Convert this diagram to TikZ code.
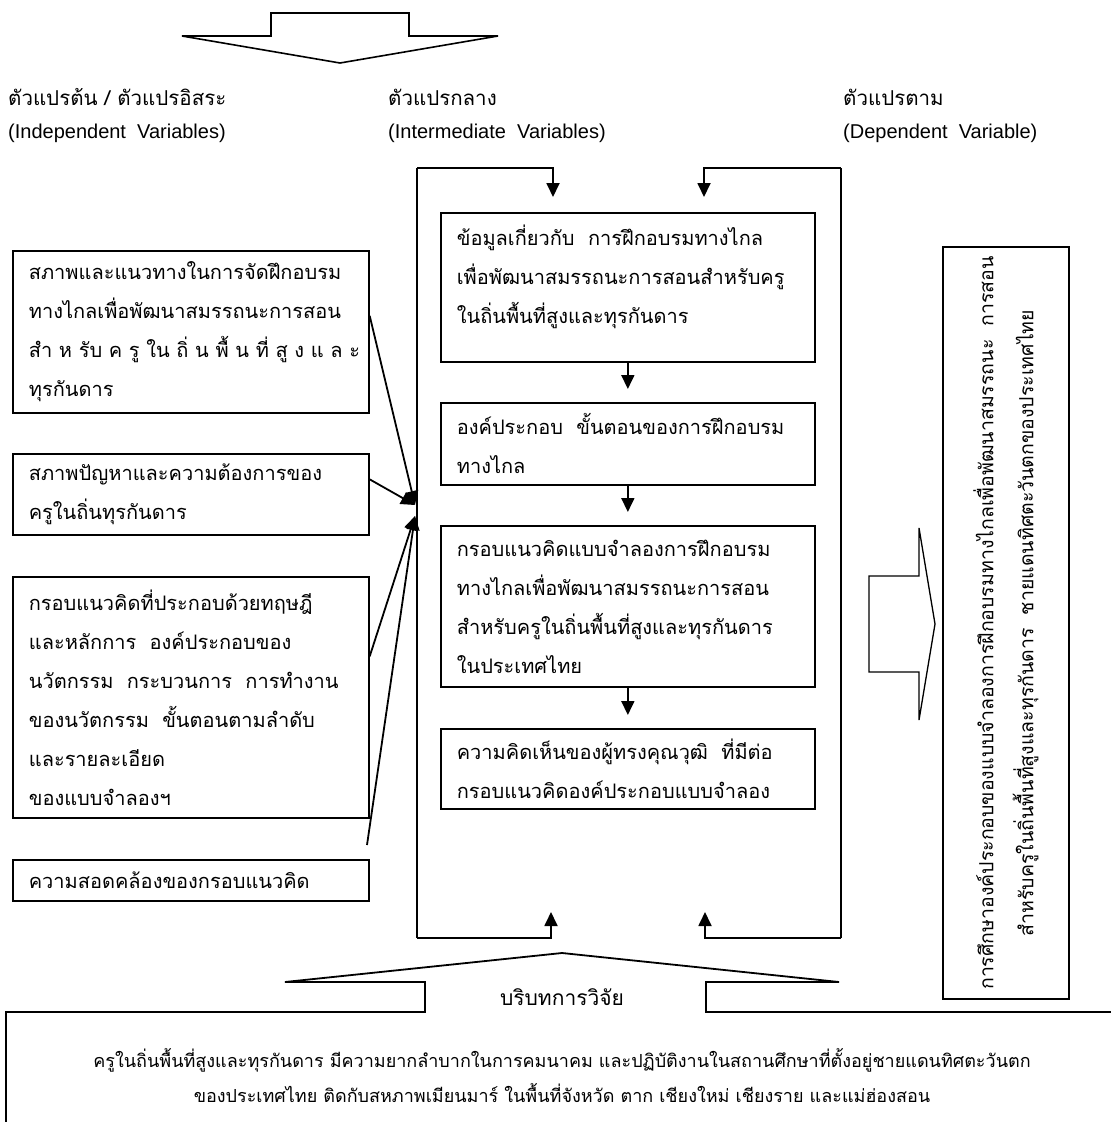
\documentclass[tikz,border=0pt]{standalone}
\usepackage{fontspec}
\setmainfont{Liberation Sans}
\newfontfamily\thai[Script=Thai]{Loma}
\usetikzlibrary{arrows.meta}

\tikzstyle{head}=[anchor=west,inner sep=0pt,font=\fontsize{20pt}{24pt}\selectfont]
\tikzstyle{thead}=[anchor=west,inner sep=0pt,font=\thai\fontsize{20.5pt}{24pt}\selectfont]
\tikzstyle{box}=[draw,line width=1.7pt,rectangle,align=left,inner xsep=16pt,inner ysep=0pt,font=\thai\fontsize{20pt}{39pt}\selectfont]
\tikzstyle{leftbox}=[box,anchor=north west,text width=324pt,minimum width=356pt]
\tikzstyle{midbox}=[box,anchor=north west,text width=342pt,minimum width=374pt]
\tikzstyle{flow}=[draw,line width=1.8pt,-{Triangle[length=14pt,width=13pt]}]
\tikzstyle{block}=[draw,line width=1.6pt,line join=miter]

\begin{document}
\begin{tikzpicture}[x=1pt,y=-1pt]
  \useasboundingbox (0,0) rectangle (1111,1122);

  % Big arrow on top
  \draw[block] (182,36) -- (271,36) -- (271,13) -- (409,13) -- (409,36) -- (498,36) -- (340,63) -- cycle;

  % Column titles
  \node[thead] (t1) at (8,97) {ตัวแปรต้น~/~ตัวแปรอิสระ};
  \node[head] (e1) at (8,133) {(Independent~~Variables)};
  \node[thead] (t2) at (388,97) {ตัวแปรกลาง};
  \node[head] (e2) at (388,133) {(Intermediate~~Variables)};
  \node[thead] (t3) at (843,97) {ตัวแปรตาม};
  \node[head] (e3) at (843,133) {(Dependent~~Variable)};

  % Independent variables
  \node[leftbox,minimum height=162pt] (b1) at (12,250) {สภาพและแนวทางในการจัดฝึกอบรม\\
    ทางไกลเพื่อพัฒนาสมรรถนะการสอน\\
    \makebox[324pt][s]{สำ ห รับ ค รู ใน ถิ่ น พื้ น ที่ สู ง แ ล ะ}\\
    ทุรกันดาร};
  \node[leftbox,minimum height=81pt] (b2) at (12,453) {สภาพปัญหาและความต้องการของ\\
    ครูในถิ่นทุรกันดาร};
  \node[leftbox,minimum height=241pt] (b3) at (12,576) {กรอบแนวคิดที่ประกอบด้วยทฤษฎี\\
    และหลักการ~~องค์ประกอบของ\\
    นวัตกรรม~~กระบวนการ~~การทำงาน\\
    ของนวัตกรรม~~ขั้นตอนตามลำดับ\\
    และรายละเอียด\\
    ของแบบจำลองฯ};
  \node[leftbox,minimum height=41pt] (b4) at (12,859) {ความสอดคล้องของกรอบแนวคิด};

  % Intermediate variables
  \node[midbox,minimum height=149pt] (mA) at (440,212) {\parbox[c][125pt][t]{342pt}{ข้อมูลเกี่ยวกับ~~การฝึกอบรมทางไกล\\
    เพื่อพัฒนาสมรรถนะการสอนสำหรับครู\\
    ในถิ่นพื้นที่สูงและทุรกันดาร}};
  \node[midbox,minimum height=82pt] (mB) at (440,402) {องค์ประกอบ~~ขั้นตอนของการฝึกอบรม\\
    ทางไกล};
  \node[midbox,minimum height=161pt] (mC) at (440,525) {กรอบแนวคิดแบบจำลองการฝึกอบรม\\
    ทางไกลเพื่อพัฒนาสมรรถนะการสอน\\
    สำหรับครูในถิ่นพื้นที่สูงและทุรกันดาร\\
    ในประเทศไทย};
  \node[midbox,minimum height=80pt] (mD) at (440,728) {ความคิดเห็นของผู้ทรงคุณวุฒิ~~ที่มีต่อ\\
    กรอบแนวคิดองค์ประกอบแบบจำลอง};

  \foreach \src/\dst in {mA/mB, mB/mC, mC/mD}
    \draw[flow,shorten >=13pt] (\src) -- (\dst);

  % The frame round the middle column
  \coordinate (ltop) at (417,168);
  \coordinate (lbot) at (417,938);
  \coordinate (rtop) at (841,168);
  \coordinate (rbot) at (841,938);
  \coordinate (lin) at (553,197);
  \coordinate (rin) at (704,197);
  \coordinate (lup) at (551,912);
  \coordinate (rup) at (705,912);
  \draw[line width=1.8pt] (ltop) -- (lbot);
  \draw[line width=1.8pt] (rtop) -- (rbot);
  \draw[flow] (ltop) -| (lin);
  \draw[flow] (rtop) -| (rin);
  \draw[flow] (lbot) -| (lup);
  \draw[flow] (rbot) -| (rup);

  % Arrows from the independent variables
  \coordinate (hubA) at (415,505);
  \coordinate (hubB) at (415,516);
  \coordinate (b4tail) at (367,845);
  \foreach \src/\shift/\dst in {b1/16/hubA, b2/15/hubA, b3/41/hubB}
    \draw[flow] ([yshift=\shift pt]\src.east) -- (\dst);
  \draw[flow] (b4tail) -- (hubB);

  % Dependent variable
  \draw[block,line width=1.3pt] (869,576) -- (919,576) -- (919,528) -- (935,624) -- (919,720) -- (919,672) -- (869,672) -- cycle;
  \node[draw,line width=1.5pt,rotate=90,minimum width=752pt,minimum height=126pt,align=center,
        font=\thai\fontsize{19.5pt}{40pt}\selectfont] (dep) at (1006,623)
    {การศึกษาองค์ประกอบของแบบจำลองการฝึกอบรมทางไกลเพื่อพัฒนาสมรรถนะ~~การสอน\\
     สำหรับครูในถิ่นพื้นที่สูงและทุรกันดาร~~ชายแดนทิศตะวันตกของประเทศไทย};

  % Research context
  \draw[block,line width=1.8pt] (6,1130) -- (6,1012) -- (425,1012) -- (425,982) -- (285,982) -- (562,953)
    -- (839,982) -- (706,982) -- (706,1012) -- (1120,1012);
  \node[font=\thai\fontsize{21pt}{24pt}\selectfont] (ctx) at (562,997) {บริบทการวิจัย};
  \node[align=center,font=\thai\fontsize{18pt}{35pt}\selectfont] (ctxtext) at (562,1075)
    {ครูในถิ่นพื้นที่สูงและทุรกันดาร มีความยากลำบากในการคมนาคม และปฏิบัติงานในสถานศึกษาที่ตั้งอยู่ชายแดนทิศตะวันตก\\
     ของประเทศไทย ติดกับสหภาพเมียนมาร์ ในพื้นที่จังหวัด ตาก เชียงใหม่ เชียงราย และแม่ฮ่องสอน};
\end{tikzpicture}
\end{document}
